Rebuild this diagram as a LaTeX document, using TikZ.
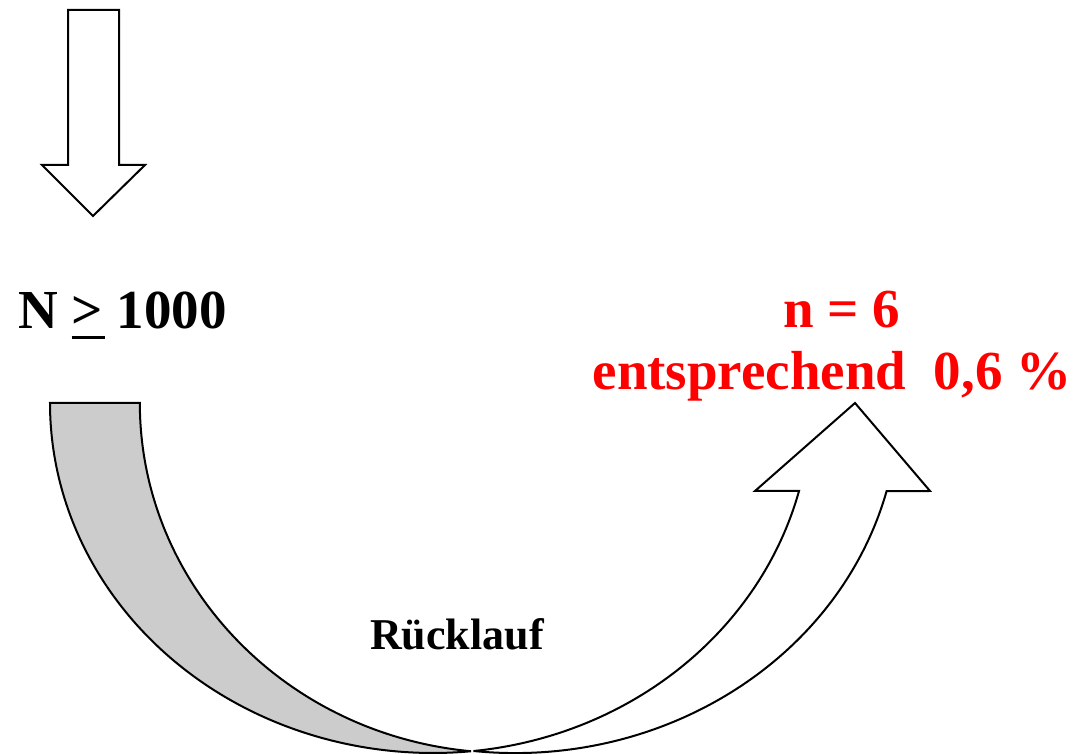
\documentclass[tikz,border=0pt]{standalone}
\usepackage{fontspec}
\setmainfont{Liberation Serif}
\definecolor{RuecklaufGray}{RGB}{204, 204, 204}
\definecolor{RuecklaufRed}{RGB}{255, 0, 0}

\begin{document}
\begin{tikzpicture}[x=1pt, y=1pt,
    outline/.style={draw=black, line width=2pt, line join=miter},
    bigtext/.style={font=\fontsize{55}{60}\selectfont\bfseries, inner sep=0pt}]

    \useasboundingbox (0,0) rectangle (1079,753);

    % --- Incoming arrow (top left) ---
    \draw[outline, fill=white] (68,743) -- (119,743) -- (119,588) -- (145,588)
        -- (93,537) -- (42,588) -- (68,588) -- cycle;

    % --- Population ---
    \node[bigtext, anchor=base west] (total) at (18,424)
        {N \makebox[0pt][l]{\rule[-0.19em]{0.6em}{0.07em}}> 1000};

    % --- Curved arrow: back side (grey) ---
    \draw[outline, fill=RuecklaufGray] (50,350)
        arc[start angle=180, end angle=275.7, x radius=383, y radius=350]
        arc[start angle=264.4, end angle=180, x radius=367, y radius=350] -- cycle;

    % --- Curved arrow: front side with head ---
    \draw[outline, fill=white] (473.5,2)
        arc[start angle=263.8, end angle=345.44, x radius=384, y radius=350]
        -- (930,262) -- (855,350) -- (755,262) -- (799,262)
        arc[start angle=345.44, end angle=276.18, x radius=378, y radius=350] -- cycle;

    % --- Return ---
    \node[font=\fontsize{44}{48}\selectfont\bfseries, inner sep=0pt, anchor=base] (return) at (457,104) {Rücklauf};

    % --- Result (red) ---
    \node[bigtext, text=RuecklaufRed, anchor=base] (count) at (842,425) {n = 6};
    \node[bigtext, text=RuecklaufRed, anchor=base] (share) at (832,363) {entsprechend\ \ 0,6 \%};

\end{tikzpicture}
\end{document}
